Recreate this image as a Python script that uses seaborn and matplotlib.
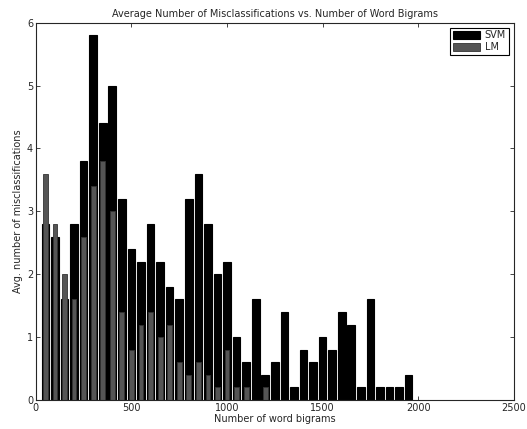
import numpy as np
import pandas as pd
import matplotlib
matplotlib.use('Agg')
import matplotlib.pyplot as plt
import seaborn as sns

# --- data ---
bigrams = list(range(50, 2000, 50))
svm_errors = [2.8, 2.6, 1.6, 2.8, 3.8, 5.8, 4.4, 5.0, 3.2, 2.4,
              2.2, 2.8, 2.2, 1.8, 1.6, 3.2, 3.6, 2.8, 2.0, 2.2,
              1.0, 0.6, 1.6, 0.4, 0.6, 1.4, 0.2, 0.8, 0.6, 1.0,
              0.8, 1.4, 1.2, 0.2, 1.6, 0.2, 0.2, 0.2, 0.4]
lm_errors = [3.6, 2.8, 2.0, 1.6, 2.6, 3.4, 3.8, 3.0, 1.4, 0.8,
             1.2, 1.4, 1.0, 1.2, 0.6, 0.4, 0.6, 0.4, 0.2, 0.8,
             0.2, 0.2, 0.0, 0.2, 0.0, 0.0, 0.0, 0.0, 0.0, 0.0,
             0.0, 0.0, 0.0, 0.0, 0.0, 0.0, 0.0, 0.0, 0.0]

df = pd.DataFrame({'bigrams': bigrams, 'SVM': svm_errors, 'LM': lm_errors})

# --- style ---
sns.set_style('ticks')
plt.rcParams['font.family'] = ['DejaVu Sans']
plt.rcParams['xtick.direction'] = 'in'
plt.rcParams['ytick.direction'] = 'in'
plt.rcParams['xtick.top'] = True
plt.rcParams['ytick.right'] = True

fig = plt.figure(figsize=(5.27, 4.29), dpi=100)
ax = fig.add_axes([0.068, 0.0676, 0.907, 0.8795])

sns.barplot(data=df, x='bigrams', y='SVM', native_scale=True, width=0.8,
            color='black', saturation=1, edgecolor='black', linewidth=0.8,
            label='SVM', ax=ax)
sns.barplot(data=df, x='bigrams', y='LM', native_scale=True, width=0.5,
            color='#555555', saturation=1, edgecolor='#333333', linewidth=0.6,
            label='LM', ax=ax)

ax.set_xlim(0, 2500)
ax.set_ylim(0, 6)
ax.set_xticks(range(0, 2501, 500))
ax.set_yticks(range(0, 7))
ax.tick_params(labelsize=7, length=3, width=0.6, pad=2)
for s in ax.spines.values():
    s.set_linewidth(0.8)

ax.set_title('Average Number of Misclassifications vs. Number of Word Bigrams',
             fontsize=7, pad=4)
ax.set_xlabel('Number of word bigrams', fontsize=7, labelpad=1)
ax.set_ylabel('Avg. number of misclassifications', fontsize=7, labelpad=3)

leg = ax.legend(loc='upper right', fontsize=7, fancybox=False, framealpha=1,
                edgecolor='black', handlelength=2.8, handleheight=1.0,
                borderpad=0.3, labelspacing=0.2, handletextpad=0.5)
leg.get_frame().set_linewidth(0.8)

fig.savefig('out.png', dpi=100)
